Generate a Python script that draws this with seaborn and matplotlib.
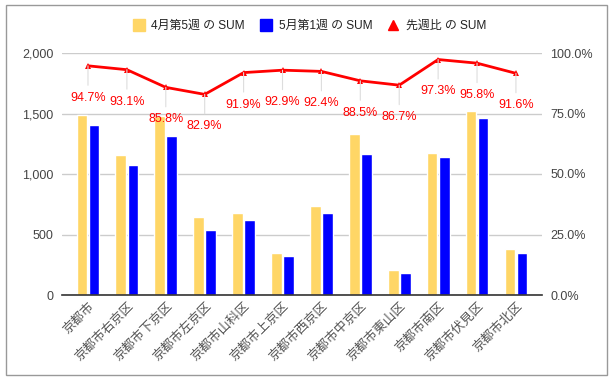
import matplotlib
matplotlib.use("Agg")
import matplotlib.pyplot as plt
import seaborn as sns
import pandas as pd
import numpy as np
from matplotlib.lines import Line2D
from matplotlib.patches import Rectangle
from matplotlib.ticker import FuncFormatter

categories = ['京都市', '京都市右京区', '京都市下京区', '京都市左京区', '京都市山科区', '京都市上京区',
              '京都市西京区', '京都市中京区', '京都市東山区', '京都市南区', '京都市伏見区', '京都市北区']
apr_week5 = [1485, 1155, 1477, 641, 674, 344, 734, 1328, 204, 1177, 1524, 377]
may_week1 = [1408, 1073, 1312, 536, 619, 322, 674, 1169, 179, 1144, 1466, 344]
ratio_pct = [94.7, 93.1, 85.8, 82.9, 91.9, 92.9, 92.4, 88.5, 86.7, 97.3, 95.8, 91.6]
series_names = ['4月第5週 の SUM', '5月第1週 の SUM', '先週比 の SUM']

sns.set_style("white")
plt.rcParams['font.family'] = ['Liberation Sans', 'Noto Sans CJK JP', 'DejaVu Sans']

YEL = '#ffd666'
BLU = '#0000ff'
RED = '#ff0000'
TXT = '#444444'
LATIN = ['Liberation Sans', 'Noto Sans CJK JP', 'DejaVu Sans']

df = pd.DataFrame({
    'cat': categories * 2,
    'val': apr_week5 + may_week1,
    'series': [series_names[0]] * len(categories) + [series_names[1]] * len(categories),
})

fig = plt.figure(figsize=(6.12, 3.8), dpi=100)
ax = fig.add_axes([62 / 612, 85 / 380, 480 / 612, 242 / 380])

sns.barplot(data=df, x='cat', y='val', hue='series', order=categories,
            hue_order=series_names[:2], palette=[YEL, BLU], width=0.62, gap=0.11,
            ax=ax, legend=False, saturation=1)
ax.set_xlim(-0.668, 11.67)
ax.set_ylim(0, 2000)
ax.set_yticks([0, 500, 1000, 1500, 2000])
ax.yaxis.set_major_formatter(FuncFormatter(lambda v, p: f'{int(v):,}'))
ax.grid(axis='y', color='#cccccc', linewidth=1)
ax.set_axisbelow(True)
ax.set_xlabel('')
ax.set_ylabel('')
for s in ['left', 'right', 'top']:
    ax.spines[s].set_visible(False)
ax.spines['bottom'].set_color('#333333')
ax.spines['bottom'].set_linewidth(1.2)
ax.tick_params(axis='both', length=0, colors=TXT, labelsize=9)
ax.tick_params(axis='y', pad=6)
for lbl in ax.get_xticklabels():
    lbl.set_rotation(45)
    lbl.set_ha('right')
    lbl.set_va('top')
    lbl.set_rotation_mode('anchor')
    lbl.set_fontsize(9.3)
    lbl.set_color('#555555')
    lbl.set_family(['Noto Sans CJK JP', 'DejaVu Sans'])

ax2 = ax.twinx()
ldf = pd.DataFrame({'x': np.arange(len(categories)), 'r': ratio_pct})
sns.lineplot(data=ldf, x='x', y='r', ax=ax2, color=RED, linewidth=2,
             marker='^', markersize=4.5, markeredgewidth=0, legend=False)
ax2.set_ylim(0, 100)
ax2.set_xlim(-0.668, 11.67)
ax2.set_yticks([0, 25, 50, 75, 100])
ax2.yaxis.set_major_formatter(FuncFormatter(lambda v, p: f'{v:.1f}%'))
ax2.tick_params(axis='y', length=0, colors=TXT, labelsize=9, pad=6)
ax2.set_ylabel('')
for s in ['left', 'right', 'top', 'bottom']:
    ax2.spines[s].set_visible(False)
ax2.grid(False)

for i, r in enumerate(ratio_pct):
    ax2.annotate(f'{r:.1f}%', xy=(i, r), xytext=(0, -23), textcoords='offset points',
                 ha='center', va='center', color=RED, fontsize=9, family=LATIN)
    ax2.annotate('', xy=(i, r), xytext=(0, -14), textcoords='offset points',
                 arrowprops=dict(arrowstyle='-', color='#dddddd', lw=0.8, shrinkA=0, shrinkB=0))

handles = [
    Line2D([], [], marker='s', linestyle='none', markersize=8.5, color=YEL),
    Line2D([], [], marker='s', linestyle='none', markersize=8.5, color=BLU),
    Line2D([], [], marker='^', linestyle='none', markersize=7.5, color=RED),
]
leg = fig.legend(handles, series_names, loc='center', bbox_to_anchor=(308 / 612, 1 - 26 / 380),
                 ncol=3, frameon=False, handletextpad=0.3, columnspacing=1.0,
                 handlelength=1.5, labelcolor='#222222', prop={'family': LATIN, 'size': 8.6})

fig.patches.append(Rectangle((6 / 612, 5 / 380), 601 / 612, 370 / 380, transform=fig.transFigure,
                             fill=False, edgecolor='#999999', linewidth=1))

fig.savefig('out.png', dpi=100)
